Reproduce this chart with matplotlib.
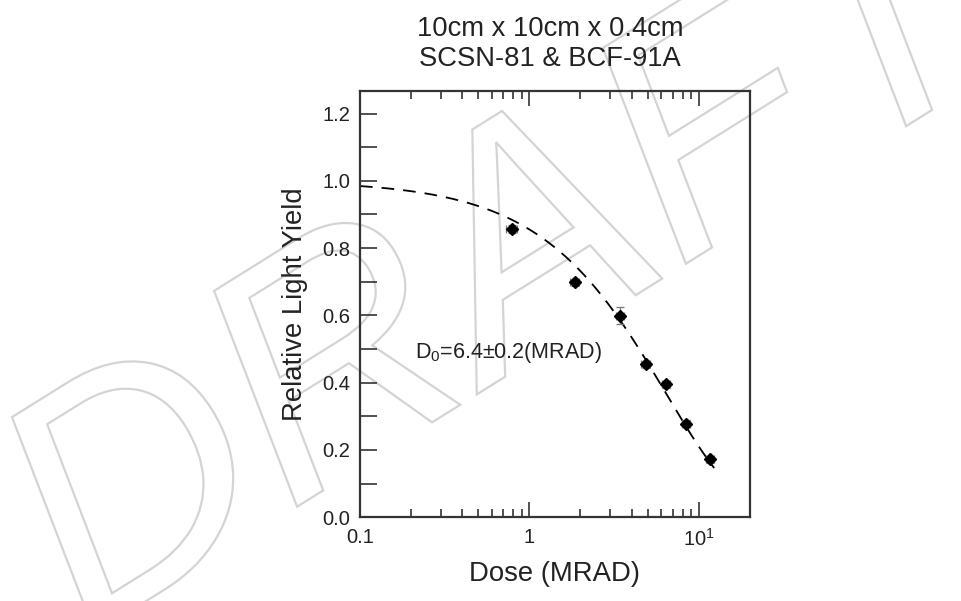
import numpy as np
import matplotlib
matplotlib.use("Agg")
import matplotlib.pyplot as plt
from matplotlib.textpath import TextPath
from matplotlib.patches import PathPatch
from matplotlib.font_manager import FontProperties
from matplotlib.ticker import FixedLocator, FixedFormatter, NullFormatter
import matplotlib.transforms as mtransforms

plt.rcParams['font.family'] = ['Liberation Sans', 'DejaVu Sans']
plt.rcParams['mathtext.default'] = 'regular'

# Measured dose points and relative light yield
dose = [0.785, 1.855, 3.42, 4.85, 6.39, 8.35, 11.66]
dose_err = [0.055, 0.11, 0.2, 0.28, 0.35, 0.45, 0.6]
light_yield = [0.857, 0.698, 0.599, 0.455, 0.395, 0.278, 0.172]
yield_err = [0.012, 0.01, 0.026, 0.01, 0.01, 0.01, 0.01]

# Exponential fit parameter
D0 = 6.4
fit_range = [0.1, 12.3]

x_ticks = [0.1, 1, 10]
x_tick_labels = ['0.1', '1', r'$10^1$']
y_ticks = [0.0, 0.2, 0.4, 0.6, 0.8, 1.0, 1.2]
y_tick_labels = ['0.0', '0.2', '0.4', '0.6', '0.8', '1.0', '1.2']

fig = plt.figure(figsize=(9.62, 6.01), dpi=100)
fig.patch.set_facecolor('white')

# Watermark
fp = FontProperties(family='Liberation Sans', style='italic')
tp = TextPath((0, 0), 'DRAFT', size=100, prop=fp)
bb = tp.get_extents()
wm_ax = fig.add_axes([0, 0, 1, 1], zorder=0)
wm_ax.set_xlim(0, 962)
wm_ax.set_ylim(0, 601)
wm_ax.axis('off')
scale = 3.3
tr = (mtransforms.Affine2D().translate(-bb.x0, -bb.y0).scale(scale, scale)
      .rotate_deg(32).translate(95, -32))
patch = PathPatch(tr.transform_path(tp), facecolor='none', edgecolor='#d4d4d4', lw=1.6)
wm_ax.add_patch(patch)

ax = fig.add_axes([0.3742, 0.1393, 0.4054, 0.7093], zorder=1)
ax.patch.set_alpha(0)

xs = np.logspace(np.log10(fit_range[0]), np.log10(fit_range[1]), 300)
ax.plot(xs, np.exp(-xs / D0), ls=(0, (7, 5)), color='black', lw=1.3)

ax.errorbar(dose, light_yield, xerr=dose_err, yerr=yield_err, fmt='D', color='black',
            ms=6, ecolor='#777777', elinewidth=0.9, capsize=3, capthick=0.9)

ax.set_xscale('log')
ax.set_xlim(0.1, 20)
ax.set_ylim(0, 1.267)

ax.xaxis.set_major_locator(FixedLocator(x_ticks))
ax.xaxis.set_major_formatter(FixedFormatter(x_tick_labels))
ax.xaxis.set_minor_locator(FixedLocator([m * 10.0 ** e for e in (-1, 0, 1) for m in range(2, 10) if m * 10.0 ** e < 20]))
ax.xaxis.set_minor_formatter(NullFormatter())
ax.yaxis.set_major_locator(FixedLocator(y_ticks))
ax.yaxis.set_major_formatter(FixedFormatter(y_tick_labels))
ax.yaxis.set_minor_locator(FixedLocator([0.1, 0.3, 0.5, 0.7, 0.9, 1.1]))

ax.tick_params(axis='both', which='both', direction='in', color='#333333', width=1.2,
               labelsize=14.5, labelcolor='#222222')
ax.tick_params(axis='x', which='major', length=11, top=True, pad=8)
ax.tick_params(axis='x', which='minor', length=6, top=True)
ax.tick_params(axis='y', which='both', length=12, right=False, pad=7)
for s in ax.spines.values():
    s.set_color('#333333')
    s.set_linewidth(1.6)

ax.set_xlabel('Dose (MRAD)', fontsize=19.8, color='#222222', labelpad=8)
ax.set_ylabel('Relative Light Yield', fontsize=19.8, color='#222222', labelpad=10)

ax.text(0.21, 0.49, r'D$_0$=6.4±0.2(MRAD)', fontsize=15.5, color='#222222',
        ha='left', va='center')

fig.text(0.572, 0.952, '10cm x 10cm x 0.4cm', fontsize=19.7, color='#222222',
         ha='center', va='center')
fig.text(0.572, 0.902, 'SCSN-81 & BCF-91A', fontsize=19.7, color='#222222',
         ha='center', va='center')

fig.savefig('out.png', dpi=100)
